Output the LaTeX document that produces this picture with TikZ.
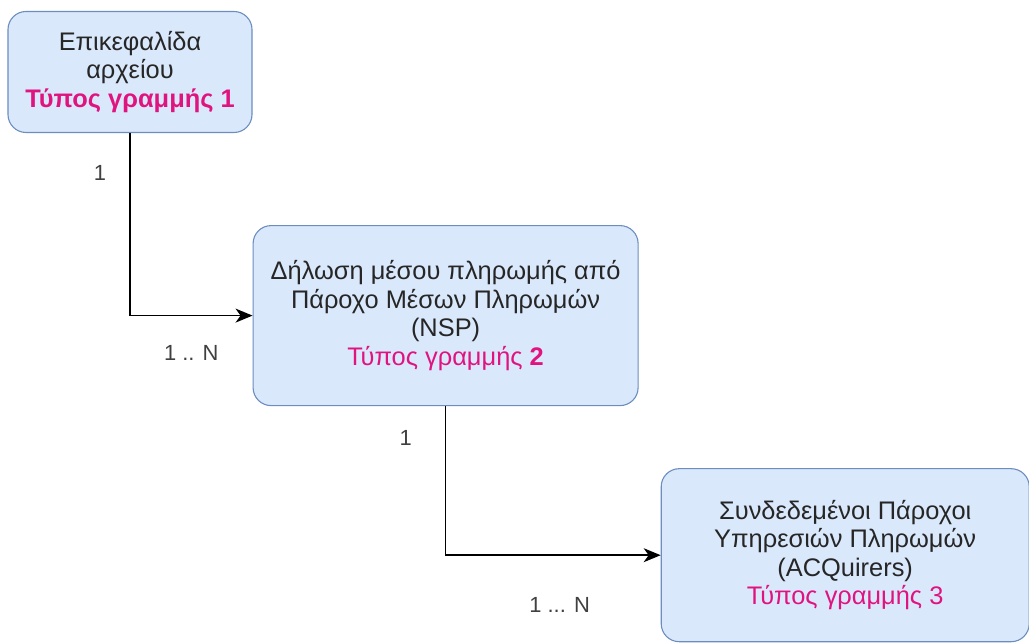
\documentclass[tikz,border=0pt]{standalone}
\usepackage{fontspec}
\setmainfont{Liberation Sans}
\usepackage{tikz}
\usetikzlibrary{arrows.meta,positioning}

\definecolor{boxfill}{HTML}{DAE8FC}
\definecolor{boxline}{HTML}{6C8EBF}
\definecolor{typepink}{HTML}{E0147F}
\definecolor{labelgray}{HTML}{404040}

\begin{document}
\begin{tikzpicture}
  [x=1bp,y=1bp,
   box/.style={rectangle,rounded corners=18bp,draw=boxline,fill=boxfill,line width=1.1bp,
     align=center,text=black!85,font=\fontsize{25.5}{28.5}\selectfont},
   card/.style={font=\fontsize{22}{26}\selectfont,text=labelgray},
   link/.style={line width=1.6bp,-{Stealth[length=17bp,width=14bp,inset=5bp]}}]

  \useasboundingbox (0,0) rectangle (1029,644);

  \node[box,minimum width=244bp,minimum height=121bp] (header) at (130,572)
    {Επικεφαλίδα\\ αρχείου\\ {\color{typepink}\bfseries Τύπος γραμμής 1}};
  \node[box,minimum width=385bp,minimum height=180bp,below right=92bp and 0bp of header] (nsp)
    {Δήλωση μέσου πληρωμής από\\ Πάροχο Μέσων Πληρωμών\\ (NSP)\\ {\color{typepink}Τύπος γραμμής \textbf{2}}};
  \node[box,minimum width=368bp,minimum height=173bp,below right=62bp and 22bp of nsp] (acq)
    {Συνδεδεμένοι Πάροχοι\\ Υπηρεσιών Πληρωμών\\ (ACQuirers)\\ {\color{typepink}Τύπος γραμμής 3}};

  % connectors with their multiplicities
  \draw[link] (header.south) |- node[card,pos=0.11,xshift=-30bp]{1}
                                node[card,pos=0.75,yshift=-37bp]{1 .. N} (nsp.west);
  \draw[link] (nsp.south) |- node[card,pos=0.106,xshift=-40bp]{1}
                             node[card,pos=0.765,yshift=-50bp]{1 ... N} (acq.west);

\end{tikzpicture}
\end{document}
